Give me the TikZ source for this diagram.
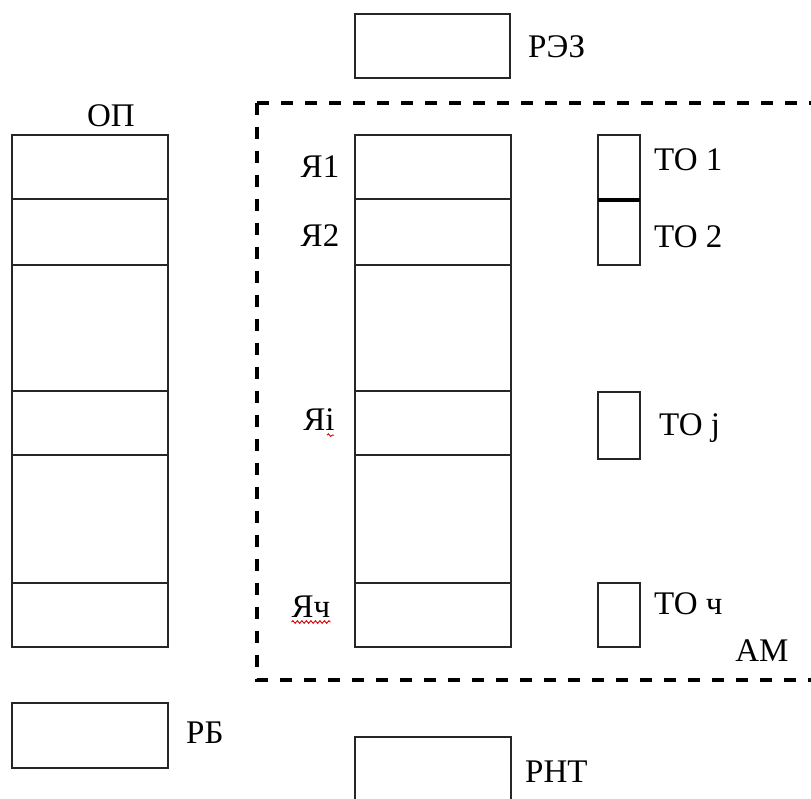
\documentclass[tikz,border=0pt]{standalone}
\usepackage{fontspec}
\setmainfont{Liberation Serif}
\usetikzlibrary{decorations.pathmorphing}

\tikzset{
  cellbox/.style={draw=black!85, line width=1.6pt, inner sep=0pt, outer sep=0pt, anchor=north west},
  lbl/.style={inner sep=0pt, font=\fontsize{33}{38}\selectfont},
  frame/.style={draw=black, line width=4pt, dash pattern=on 12pt off 12pt},
  squiggle/.style={draw=red!85!black, line width=0.9pt, decorate,
    decoration={snake, amplitude=1.3pt, segment length=4.5pt}}
}

% \cellat{name}{left}{top}{right}{bottom} places an empty box by its corners
\newcommand{\cellat}[5]{%
  \node[cellbox, minimum width={(#4-#2)*1pt}, minimum height={(#5-#3)*1pt}] (#1) at (#2,#3) {};}

\begin{document}
\begin{tikzpicture}[x=1pt, y=-1pt]
\useasboundingbox (0,0) rectangle (811,799);
\clip (0,0) rectangle (811,799);

% top register
\cellat{rez}{355}{14}{510}{78}
\node[lbl, anchor=west] (rezl) at (528,47) {РЭЗ};

% main memory column
\node[lbl] (opl) at (111,116) {ОП};
\cellat{op1}{12}{135}{168}{199}
\cellat{op2}{12}{199}{168}{265}
\cellat{op3}{12}{265}{168}{391}
\cellat{op4}{12}{391}{168}{455}
\cellat{op5}{12}{455}{168}{583}
\cellat{op6}{12}{583}{168}{647}

% dashed frame of the associative memory
\coordinate (fc) at (257,103);
\coordinate (fr) at (830,103);
\coordinate (fb) at (257,680);
\coordinate (fbr) at (830,680);
\draw[frame] (fc) -- (fr);
\draw[frame] (fc) -- (fb) -- (fbr);

% cells of the associative memory
\cellat{am1}{355}{135}{511}{199}
\cellat{am2}{355}{199}{511}{265}
\cellat{am3}{355}{265}{511}{391}
\cellat{am4}{355}{391}{511}{455}
\cellat{am5}{355}{455}{511}{583}
\cellat{am6}{355}{583}{511}{647}

\node[lbl] (ya1) at (320,167) {Я1};
\node[lbl] (ya2) at (320,236) {Я2};
\node[lbl] (yai) at (319,420) {Яi};
\node[lbl] (yach) at (311,607) {Яч};
\draw[squiggle] ([xshift=8pt,yshift=-4pt]yai.south) -- ([xshift=-1pt,yshift=-4pt]yai.south east);
\draw[squiggle] ([xshift=0pt,yshift=-4pt]yach.south west) -- ([xshift=0pt,yshift=-4pt]yach.south east);

% tag cells
\cellat{to1}{598}{135}{640}{200}
\cellat{to2}{598}{200}{640}{265}
\draw[line width=3.2pt] (to1.south west) -- (to1.south east);
\cellat{toj}{598}{392}{640}{459}
\cellat{toch}{598}{583}{640}{647}

\node[lbl, anchor=west] (to1l) at (654,160) {ТО 1};
\node[lbl, anchor=west] (to2l) at (654,237) {ТО 2};
\node[lbl, anchor=west] (tojl) at (659,428) {ТО j};
\node[lbl, anchor=west] (tochl) at (654,604) {ТО ч};
\node[lbl] (aml) at (762,651) {АМ};

% bottom registers
\cellat{rb}{12}{703}{168}{768}
\node[lbl, anchor=west] (rbl) at (186,733) {РБ};
\cellat{rnt}{355}{737}{511}{830}
\node[lbl, anchor=west] (rntl) at (525,772) {РНТ};
\end{tikzpicture}
\end{document}
